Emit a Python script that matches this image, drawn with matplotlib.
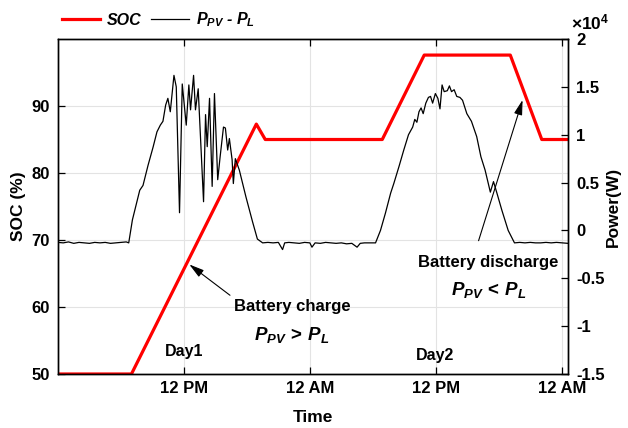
import numpy as np
import matplotlib
matplotlib.use("Agg")
import matplotlib.pyplot as plt
from matplotlib.ticker import FuncFormatter

plt.rcParams['font.family'] = ['Liberation Sans', 'DejaVu Sans']
plt.rcParams['font.weight'] = 'bold'
plt.rcParams['mathtext.fontset'] = 'custom'
plt.rcParams['mathtext.rm'] = 'Liberation Sans:bold'
plt.rcParams['mathtext.it'] = 'Liberation Sans:italic:bold'
plt.rcParams['mathtext.bf'] = 'Liberation Sans:bold'

# battery state of charge, hours from midnight of day 1
soc_t = [0, 7.0, 18.9, 19.75, 30.9, 34.9, 43.1, 46.1, 48.6]
soc = [50, 50, 87.3, 85, 85, 97.6, 97.6, 85, 85]

# net power P_PV - P_L in W
pow_t = [0, 0.5, 1.0, 1.5, 2.0, 2.5, 3.0, 3.5, 4.0, 4.5, 5.0, 5.5, 6.0, 6.5,
         6.74, 7.09, 7.79, 8.1, 8.58, 9.06, 9.43, 9.75, 10.0, 10.26, 10.47,
         10.7, 11.05, 11.27, 11.58, 11.84, 12.22, 12.47, 12.63, 12.92, 13.1,
         13.36, 13.87, 14.06, 14.22, 14.44, 14.69, 14.91, 15.22, 15.45, 15.77,
         15.95, 16.17, 16.33, 16.59, 16.71, 16.9, 17.28, 17.91, 18.54, 19.0,
         19.5, 20.0, 20.5, 21.0, 21.4, 21.6, 22.0, 22.5, 23.0, 23.5, 24.0,
         24.2, 24.5, 25.0, 25.5, 26.0, 26.5, 27.0, 27.5, 28.0, 28.5, 28.8,
         29.2, 29.7, 30.26, 30.73, 31.2, 31.7, 32.0, 32.5, 32.95, 33.4, 33.8,
         34.0, 34.2, 34.4, 34.6, 34.8, 35.05, 35.3, 35.5, 35.7, 35.96, 36.2,
         36.4, 36.6, 36.8, 37.1, 37.3, 37.5, 37.75, 38.0, 38.3, 38.55, 38.96,
         39.4, 39.9, 40.3, 40.7, 41.2, 41.5, 41.8, 42.3, 42.9, 43.5, 44.0,
         44.5, 45.0, 45.5, 46.0, 46.5, 47.0, 47.5, 48.0, 48.6]
pow_w = [-1250, -1300, -1200, -1350, -1250, -1300, -1350, -1250, -1300,
         -1250, -1350, -1300, -1250, -1200,
         -1300, 1100, 4200, 4700, 6800, 8700, 10300, 11000, 11400, 13100, 13800,
         12400, 16200, 15000, 1850, 15300, 11000, 15200, 12600, 16200, 12600,
         14800, 3000, 12100, 8750, 13800, 4600, 14300, 5300, 7700, 10800,
         10700, 8400, 9600, 7400, 4900, 7500, 6300, 3500, 900, -900,
         -1300, -1250, -1300, -1250, -2000, -1300, -1250, -1300, -1350, -1250,
         -1300, -1750, -1300, -1350, -1250, -1300, -1350, -1300, -1400, -1350,
         -1750, -1350, -1300, -1300, -1300, 0, 1800, 3900, 4900, 6700, 8400,
         10000, 10800, 11600, 11300, 12400, 12800, 12200, 13300, 13900, 14000,
         13300, 14300, 13800, 12700, 15200, 14500, 14600, 15100, 14500, 14700,
         14000, 13900, 13600, 12200, 11400, 9800, 7700, 6300, 4000, 5100, 4000,
         2100, 0, -1300, -1250, -1300, -1250, -1300, -1300, -1250, -1300,
         -1250, -1300, -1350]

xticks = [12, 24, 36, 48]
xticklabels = ['12 PM', '12 AM', '12 PM', '12 AM']
soc_ticks = [50, 60, 70, 80, 90]
pow_ticks = [-15000, -10000, -5000, 0, 5000, 10000, 15000, 20000]

fig = plt.figure(figsize=(6.28, 4.28), dpi=100)
ax = fig.add_axes([58/628, 1 - 374/428, 510/628, 335/428])
ax2 = ax.twinx()

l1, = ax.plot(soc_t, soc, color='#ff0000', lw=2.3, label='SOC')
l2, = ax2.plot(pow_t, pow_w, color='black', lw=0.9, label=r'$P_{PV}$ - $P_{L}$')

ax.set_xlim(0, 48.6)
ax.set_ylim(50, 100)
ax2.set_ylim(-15000, 20000)

ax.set_xticks(xticks)
ax.set_xticklabels(xticklabels)
ax.set_yticks(soc_ticks)
ax2.set_yticks(pow_ticks)
ax2.yaxis.set_major_formatter(FuncFormatter(lambda v, p: '%g' % (v / 1e4)))

ax.grid(True, color='#e3e3e3', lw=0.8)
ax.set_axisbelow(True)
ax.tick_params(axis='x', direction='in', top=True, length=5, width=0.9,
               labelsize=12, pad=5)
ax.tick_params(axis='y', direction='in', length=5, width=0.9,
               labelsize=12, pad=6)
ax2.tick_params(axis='y', direction='in', length=5, width=0.9,
                labelsize=12, pad=6)
for a in (ax, ax2):
    for s in a.spines.values():
        s.set_linewidth(1.0)

ax.set_xlabel('Time', fontsize=12.5, fontweight='bold', labelpad=10)
ax.set_ylabel('SOC (%)', fontsize=12.5, fontweight='bold', labelpad=4)
ax2.set_ylabel('Power(W)', fontsize=12.5, fontweight='bold', labelpad=1)

ax2.text(1.005, 1.02, r'$\times 10^{4}$', transform=ax2.transAxes,
         fontsize=12.5, ha='left', va='bottom')

# annotations
arrow = dict(arrowstyle='-|>,head_length=0.9,head_width=0.25',
             color='black', lw=0.8)
ax.annotate('', xy=(12.3, 66.6), xytext=(16.6, 61.5), arrowprops=arrow)
ax.text(22.3, 60.1, 'Battery charge', fontsize=12, ha='center', va='center')
ax.text(22.3, 55.8, r'$P_{PV}\,>\,P_{L}$', fontsize=13.5,
        ha='center', va='center')

ax.annotate('', xy=(44.35, 91.3), xytext=(40.0, 69.5), arrowprops=arrow)
ax.text(41.0, 66.7, 'Battery discharge', fontsize=12, ha='center', va='center')
ax.text(41.0, 62.6, r'$P_{PV}\,<\,P_{L}$', fontsize=13.5,
        ha='center', va='center')

ax.text(12.0, 53.3, 'Day1', fontsize=11.5, ha='center', va='center')
ax.text(35.9, 52.8, 'Day2', fontsize=11.5, ha='center', va='center')

fig.legend(handles=[l1, l2], loc='center left',
           bbox_to_anchor=(62/628, 1 - 20/428), ncol=2, frameon=False,
           prop=dict(family='Liberation Sans', weight='bold', style='italic',
                     size=11.5),
           handlelength=2.4, handletextpad=0.4, columnspacing=0.6,
           borderpad=0, borderaxespad=0)

fig.savefig('out.png', dpi=100)
